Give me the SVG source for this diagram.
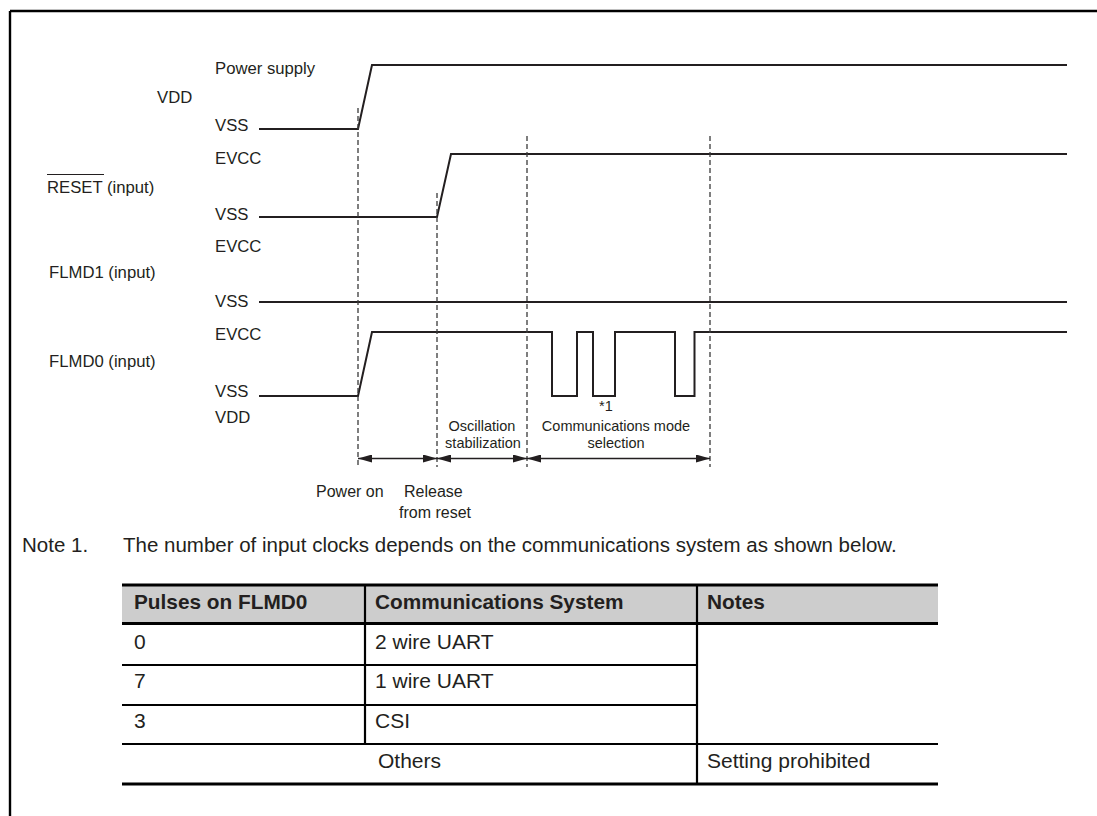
<svg xmlns="http://www.w3.org/2000/svg" width="1097" height="816" viewBox="0 0 1097 816">
<style>
text{font-family:"Liberation Sans",Arial,sans-serif;fill:#231f20}
.lbl{font-size:16.7px}
.sm{font-size:14.5px}
.mid{text-anchor:middle}
.wave{fill:none;stroke:#231f20;stroke-width:2;stroke-linejoin:miter}
.dash{fill:none;stroke:#3a3a3a;stroke-width:1.3;stroke-dasharray:5 3}
.dim{fill:none;stroke:#231f20;stroke-width:1.5;marker-start:url(#ah);marker-end:url(#ah)}
.thick{stroke:#000;stroke-width:3.2}
.thin{stroke:#000;stroke-width:2.2}
.th{font-size:20.8px;font-weight:bold}
.td{font-size:21px}
.note{font-size:20.5px}
</style>
<defs>
<marker id="ah" markerUnits="userSpaceOnUse" markerWidth="14" markerHeight="8" refX="14" refY="4" orient="auto-start-reverse">
<path d="M0,0 L14,4 L0,8 z" fill="#231f20"/>
</marker>
</defs>
<g id="frame" stroke="#000" stroke-width="2.4" fill="none">
<line x1="10" y1="11" x2="1097" y2="11"/>
<line x1="10" y1="11" x2="10" y2="816"/>
</g>
<g id="vdd">
<text class="lbl" x="215" y="74">Power supply</text>
<text class="lbl" x="157" y="103">VDD</text>
<text class="lbl" x="215" y="131">VSS</text>
<polyline class="wave" points="259,129 358,129 372,65 1067,65"/>
</g>
<g id="reset">
<text class="lbl" x="215" y="164">EVCC</text>
<text class="lbl" x="47" y="193">RESET (input)</text>
<line x1="47" y1="174.5" x2="104" y2="174.5" stroke="#231f20" stroke-width="1.2"/>
<text class="lbl" x="215" y="220">VSS</text>
<polyline class="wave" points="259,217 437,217 451,154 1067,154"/>
</g>
<g id="flmd1">
<text class="lbl" x="215" y="252">EVCC</text>
<text class="lbl" x="49" y="278">FLMD1 (input)</text>
<text class="lbl" x="215" y="307">VSS</text>
<line class="wave" x1="259" y1="302" x2="1067" y2="302" stroke-width="1.6"/>
</g>
<g id="flmd0">
<text class="lbl" x="215" y="340">EVCC</text>
<text class="lbl" x="49" y="367">FLMD0 (input)</text>
<text class="lbl" x="215" y="397">VSS</text>
<text class="lbl" x="215" y="423">VDD</text>
<polyline class="wave" points="259,396 358,396 372,332 552,332 552,396 577,396 577,332 593,332 593,396 615,396 615,332 675,332 675,396 694.5,396 694.5,332 1067,332"/>
<text class="sm" x="599" y="411">*1</text>
</g>
<g id="connectors">
<line class="dash" x1="358" y1="108" x2="358" y2="467"/>
<line class="dash" x1="437" y1="193" x2="437" y2="467"/>
<line class="dash" x1="527" y1="136" x2="527" y2="467"/>
<line class="dash" x1="710" y1="136" x2="710" y2="467"/>
<line class="dim" x1="358" y1="458.5" x2="437" y2="458.5"/>
<line class="dim" x1="437" y1="458.5" x2="527" y2="458.5"/>
<line class="dim" x1="527" y1="458.5" x2="710" y2="458.5"/>
</g>
<g id="phase-labels">
<text class="sm mid" x="482" y="431">Oscillation</text>
<text class="sm mid" x="483" y="448">stabilization</text>
<text class="sm mid" x="616" y="431">Communications mode</text>
<text class="sm mid" x="616" y="448">selection</text>
<text class="lbl" x="316" y="497" style="font-size:16px">Power on</text>
<text class="lbl" x="404" y="497" style="font-size:16px">Release</text>
<text class="lbl" x="399" y="518" style="font-size:16px">from reset</text>
</g>
<g id="note">
<text class="note" x="22" y="552">Note 1.</text>
<text class="note" x="123" y="552">The number of input clocks depends on the communications system as shown below.</text>
</g>
<g id="table">
<rect x="122" y="585" width="816" height="38.5" fill="#cdcdcd"/>
<line class="thin" x1="365" y1="585" x2="365" y2="744"/>
<line class="thin" x1="697" y1="585" x2="697" y2="784"/>
<line class="thin" x1="122" y1="665" x2="697" y2="665"/>
<line class="thin" x1="122" y1="705" x2="697" y2="705"/>
<line class="thin" x1="122" y1="744" x2="938" y2="744"/>
<line class="thick" x1="122" y1="585" x2="938" y2="585"/>
<line class="thick" x1="122" y1="623.5" x2="938" y2="623.5"/>
<line class="thick" x1="122" y1="784" x2="938" y2="784"/>
<text class="th" x="134" y="609">Pulses on FLMD0</text>
<text class="th" x="375" y="609">Communications System</text>
<text class="th" x="707" y="609">Notes</text>
<text class="td" x="134" y="649">0</text>
<text class="td" x="375" y="649">2 wire UART</text>
<text class="td" x="134" y="688">7</text>
<text class="td" x="375" y="688">1 wire UART</text>
<text class="td" x="134" y="728">3</text>
<text class="td" x="375" y="728">CSI</text>
<text class="td mid" x="409.5" y="768">Others</text>
<text class="td" x="707" y="768">Setting prohibited</text>
</g>
</svg>
